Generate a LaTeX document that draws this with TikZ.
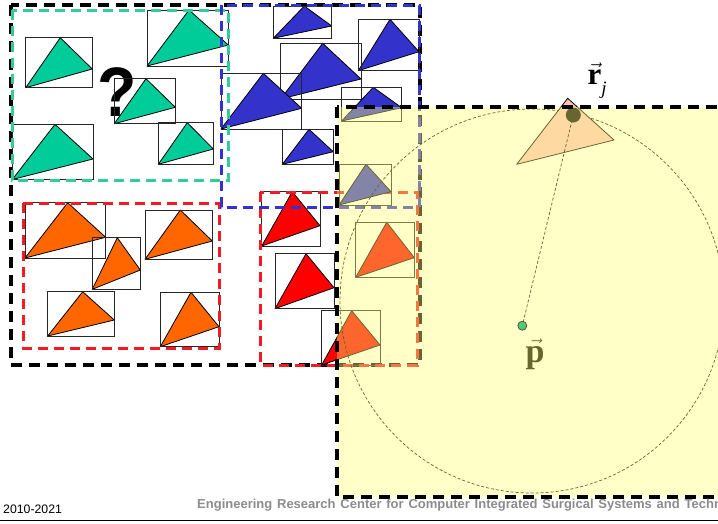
\documentclass[tikz,border=0pt]{standalone}
\usepackage{fontspec}
\setmainfont{Liberation Serif}
\newfontfamily\arialfont{Liberation Sans}
\definecolor{tgreen}{HTML}{00CC99}
\definecolor{tblue}{HTML}{3333CC}
\definecolor{torange}{HTML}{FF6600}
\definecolor{tred}{HTML}{FF0000}
\definecolor{ovl}{RGB}{255,255,117}
\definecolor{tpink}{HTML}{FFC0C0}
\definecolor{dgreen}{HTML}{33CC99}
\definecolor{dred}{HTML}{EE1C24}
\definecolor{pdot}{HTML}{55C878}
\definecolor{footgray}{HTML}{8C8C8C}
\newcommand{\tribox}[7]{%
  \filldraw[fill=#1,draw=black,line width=0.8pt,line join=round] (#2,#5) -- (#6,#3) -- (#4,#7) -- cycle;
  \draw[boxline] (#2,#3) rectangle (#4,#5);}
\tikzset{
  boxline/.style={draw=black!85,line width=1pt},
  bigdash/.style={draw=black,line width=3.2pt,dash pattern=on 11pt off 7pt},
  grpdash/.style={line width=3pt,dash pattern=on 10pt off 6pt},
  thindash/.style={draw=black,line width=0.7pt,dash pattern=on 3pt off 2pt}
}
\begin{document}
\begin{tikzpicture}[x=1pt,y=-1pt]
\useasboundingbox (0,0) rectangle (718,523);
\clip (0,0) rectangle (718,523);
\fill[white] (0,0) rectangle (718,523);
% big black group
\draw[bigdash] (11,5) rectangle (420,365);
% green triangles
\node[font=\arialfont\bfseries\fontsize{70}{70}\selectfont,inner sep=0pt,xscale=0.92] (q) at (117.5,92) {?};
\tribox{tgreen}{25.7}{37.7}{92.3}{87.7}{60.3}{69}
\tribox{tgreen}{147}{10}{228.3}{66}{189}{45}
\tribox{tgreen}{114.3}{78.7}{175.3}{123.7}{146}{107.3}
\tribox{tgreen}{12.3}{124.3}{93}{179.5}{55}{159}
\tribox{tgreen}{158.3}{122.7}{213.3}{164.3}{187.3}{149}
% blue triangles
\tribox{tblue}{273.3}{6}{331.7}{38.3}{304.3}{26}
\tribox{tblue}{358.3}{19.3}{419}{70.7}{390}{51.7}
\tribox{tblue}{280.7}{43.3}{361}{99}{322.7}{79}
\tribox{tblue}{221}{73.3}{301.7}{129}{263.3}{108.3}
\tribox{tblue}{341.7}{87.3}{401.7}{121}{373.3}{107.7}
\tribox{tblue}{282.3}{129.3}{333.3}{164.3}{309}{151.7}
% orange triangles
\tribox{torange}{25}{202.7}{105.7}{258}{67.7}{237.3}
\tribox{torange}{92.3}{237.7}{140.3}{289.3}{117.3}{270}
\tribox{torange}{145}{210}{212.3}{259.3}{180.3}{241}
\tribox{torange}{47.7}{291.7}{114.3}{336}{82.7}{320}
\tribox{torange}{160.3}{292.3}{219}{346.7}{191}{326.7}
% red triangles
\tribox{tred}{261.7}{191.7}{320}{246}{292.3}{225.7}
\tribox{tred}{275}{253.7}{334}{308.7}{306}{287.7}
\tribox{tred}{321.7}{310.7}{380}{365}{351.7}{345}
\tribox{tred}{355.7}{222.3}{414.3}{277.3}{386.7}{257.7}
% group boxes
\draw[grpdash,draw=dgreen] (12,10) rectangle (228.5,180);
\draw[grpdash,draw=dred] (23,203) rectangle (219,348);
\draw[grpdash,draw=dred] (260,192) rectangle (417,365);
\draw[grpdash,draw=tblue] (221,5) rectangle (419,207);
\tribox{tblue}{339}{164.3}{391}{205}{366}{191.7}
% neighbourhood
\draw[thindash] (532,301) circle[radius=192];
\filldraw[fill=tpink,draw=black,line width=0.8pt,line join=round] (516.7,164.3) -- (567.7,98.3) -- (614,140) -- cycle;
\fill[black] (573.3,115) circle[radius=7.5] coordinate (rj);
\coordinate (pp) at (522.3,325.7);
\draw[thindash] (rj) -- (pp);
\node[anchor=base west,inner sep=0pt,text=black,font=\fontsize{34}{34}\selectfont] (plabel) at (525.5,362) {$\vec{\textbf{p}}$};
% overlay
\fill[ovl,fill opacity=0.4] (337,107) rectangle (740,497);
\draw[bigdash] (337,107) rectangle (740,497);
\filldraw[fill=pdot,draw=black!60!olive,line width=0.7pt] (pp) circle[radius=4.5];
\node[anchor=base west,inner sep=0pt,font=\fontsize{31}{31}\selectfont] (rlabel) at (587.5,84.5) {$\vec{\textbf{r}}$\raisebox{-10pt}{\fontsize{19}{19}\selectfont\textit{j}}};
% footer
\node[anchor=base west,inner sep=0pt,font=\arialfont\fontsize{12.3}{12.3}\selectfont] (yr) at (3,513.5) {2010-2021};
\node[anchor=base west,inner sep=0pt,text=footgray,font=\arialfont\bfseries\fontsize{13}{13}\selectfont] (erc) at (197,508.5) {\spaceskip=4.8pt plus 0pt minus 0pt Engineering Research Center for Computer Integrated Surgical Systems and Technology};
\draw[black,line width=1.5pt] (0,520.5) -- (718,520.5);
\end{tikzpicture}
\end{document}
